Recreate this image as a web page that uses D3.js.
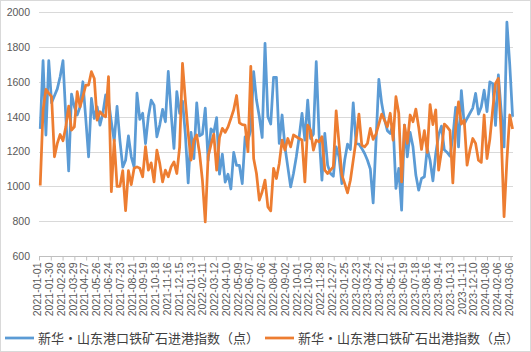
<!DOCTYPE html>
<html>
<head>
<meta charset="utf-8">
<script src="https://cdn.jsdelivr.net/npm/d3@7"></script>
<style>
  body { margin: 0; background: #fff; }
  svg { display: block; }
</style>
</head>
<body>
<div id="chart"></div>
<script>
// weekly readings, first week 2021-01-04
const firstWeek = "2021-01-04";

const inbound = [
  1330, 1722, 1295, 1722, 1480, 1520, 1560, 1630, 1722, 1400,
  1089, 1530, 1457, 1410, 1457, 1601, 1390, 1170, 1505, 1390,
  1457, 1352, 1419, 1525, 1490, 1370, 1260, 1460, 1265, 1110,
  1150, 1290, 1170, 1110, 1535, 1385, 1420, 1245, 1400, 1495,
  1467, 1285, 1352, 1442, 1371, 1660, 1420, 1218, 1544, 1420,
  1490, 1300, 1020, 1310, 1160, 1480, 1290, 1300, 1450, 1150,
  1330, 1310, 1395, 1070, 1185, 1025, 1070, 985, 1195, 1120,
  1120, 1016, 1285, 1266, 1323, 1659, 1496, 1400, 1281, 1822,
  1400, 1358, 1626, 1626, 1247, 1410, 1227, 1112, 997, 1074,
  1170, 1285, 1419, 1266, 1496, 1275, 1300, 1716, 1295, 1036,
  1304, 1122, 1074, 1058, 1227, 1170, 1016, 1151, 1243, 1212,
  1480, 1247, 1243, 1218, 1189, 1150, 1100, 905, 1260, 1615,
  1477, 1385, 1320, 1304, 1358, 988, 1103, 863, 1352, 1170,
  1310, 1227, 1065, 978, 1045, 1055, 1218, 1150, 1032, 1189,
  1295, 1346, 1210, 1195, 1174, 1285, 1454, 1227, 1550, 1358,
  1390, 1420, 1450, 1534, 1415, 1457, 1553, 1430, 1600, 1590,
  1350, 1640, 1430, 1227, 1944, 1700, 1400
];

const outbound = [
  1005, 1438, 1557, 1534, 1515, 1170, 1247, 1298, 1262, 1342,
  1461, 1323, 1342, 1544, 1457, 1515, 1582, 1582, 1659, 1620,
  1381, 1429, 1410, 1400, 1630, 970, 1266, 1000, 1000, 1090,
  860, 1090, 1010, 1104, 1112, 1104, 1055, 1228, 1093, 1135,
  1026, 1208, 1132, 1026, 1093, 1055, 1112, 1141, 1074, 1227,
  1707, 1496, 1304, 1151, 1266, 1295, 1189, 1035, 796, 1170,
  1240, 1300, 1093, 1280, 1333, 1310, 1342, 1390, 1440, 1522,
  1365, 1355, 1352, 1199, 1690, 1160, 1074, 921, 969, 1036,
  882, 859, 1103, 1045, 1132, 1266, 1208, 1275, 1227, 1295,
  1285, 1275, 1266, 1026, 1352, 1323, 1208, 1266, 1256, 1285,
  1093, 1074, 1093, 1112, 1434, 1247, 1065, 1016, 963, 1035,
  1151, 1266, 1415, 1237, 1227, 1247, 1333, 1270, 1300, 1358,
  1415, 1380, 1342, 1420, 1266, 1515, 1420, 1026, 1352, 1247,
  1410, 1371, 1444, 1340, 1212, 1320, 1195, 1470, 1355, 1440,
  1093, 1200, 1358, 1342, 1320, 1020, 1340, 1485, 1358, 1380,
  1122, 1208, 1275, 1247, 1150, 1138, 1410, 1160, 1270, 1440,
  1592, 1620, 1300, 826, 1150, 1410, 1330
];

const tickLabels = [
  "2021-01-01", "2021-01-30", "2021-02-28", "2021-03-29", "2021-04-27",
  "2021-05-26", "2021-06-24", "2021-07-23", "2021-08-21", "2021-09-19",
  "2021-10-18", "2021-11-16", "2021-12-15", "2022-01-13", "2022-02-11",
  "2022-03-12", "2022-04-10", "2022-05-09", "2022-06-07", "2022-07-06",
  "2022-08-04", "2022-09-02", "2022-10-01", "2022-10-30", "2022-11-28",
  "2022-12-27", "2023-01-25", "2023-02-23", "2023-03-24", "2023-04-22",
  "2023-05-21", "2023-06-19", "2023-07-18", "2023-08-16", "2023-09-14",
  "2023-10-13", "2023-11-11", "2023-12-10", "2024-01-08", "2024-02-06",
  "2024-03-06"
];

const yTicks = [600, 800, 1000, 1200, 1400, 1600, 1800, 2000];

const seriesNames = ["新华・山东港口铁矿石进港指数（点）", "新华・山东港口铁矿石出港指数（点）"];
const colors = ["#5B9BD5", "#ED7D31"];

const width = 531, height = 352;
const parse = d3.utcParse("%Y-%m-%d");
const start = parse(firstWeek);
const weeks = inbound.map((d, i) => d3.utcDay.offset(start, 7 * i));

const svg = d3.select("#chart").append("svg").attr("width", width).attr("height", height);

svg.append("rect")
    .attr("x", 0.5).attr("y", 0.5)
    .attr("width", width - 1).attr("height", height - 1)
    .attr("fill", "#fff").attr("stroke", "#D9D9D9");

const x = d3.scaleUtc().domain([parse("2021-01-01"), parse("2024-03-12")]).range([39, 513]);
const y = d3.scaleLinear().domain([600, 2000]).range([256, 12.3]);

// gridlines
svg.append("g")
    .selectAll("line")
    .data(yTicks.slice(1))
    .join("line")
    .attr("x1", 39).attr("x2", 513)
    .attr("y1", d => Math.round(y(d)) + 0.5).attr("y2", d => Math.round(y(d)) + 0.5)
    .attr("stroke", "#D9D9D9").attr("stroke-width", 1);

// y axis labels
const yAxis = svg.append("g")
    .attr("transform", "translate(39,0)")
    .call(d3.axisLeft(y).tickValues(yTicks).tickSize(0).tickPadding(9).tickFormat(d3.format("d")));
yAxis.select(".domain").remove();
yAxis.selectAll("text")
    .attr("font-family", "Liberation Sans, Arial, sans-serif")
    .attr("font-size", "10.5px")
    .attr("fill", "#595959");

// x axis
const tickDates = tickLabels.map(parse);
const xAxis = svg.append("g")
    .attr("transform", "translate(0,256.5)")
    .call(d3.axisBottom(x).tickValues(tickDates).tickSize(4).tickFormat(d3.utcFormat("%Y-%m-%d")));
xAxis.select(".domain").attr("stroke", "#BFBFBF").attr("d", "M39,0H513");
xAxis.selectAll(".tick line").attr("stroke", "#BFBFBF");
xAxis.selectAll("text")
    .attr("font-family", "Liberation Sans, Arial, sans-serif")
    .attr("font-size", "10.5px")
    .attr("fill", "#595959")
    .attr("text-anchor", "end")
    .attr("transform", "translate(0,6) rotate(-90)")
    .attr("x", 0).attr("y", 0)
    .attr("dy", "0.17em");

// series lines
const line = d3.line()
    .x((d, i) => x(weeks[i]))
    .y(d => y(d));

[inbound, outbound].forEach((s, k) => {
    svg.append("path")
        .datum(s)
        .attr("fill", "none")
        .attr("stroke", colors[k])
        .attr("stroke-width", 2.75)
        .attr("stroke-linejoin", "round")
        .attr("d", line);
});

// legend
const legendX = [5, 265];
seriesNames.forEach((name, k) => {
    const g = svg.append("g").attr("transform", `translate(${legendX[k]},338)`);
    g.append("line")
        .attr("x1", 0).attr("x2", 29)
        .attr("stroke", colors[k]).attr("stroke-width", 2.75);
    g.append("text")
        .attr("x", 33)
        .attr("dy", "0.36em")
        .attr("font-family", "Noto Sans CJK SC, sans-serif")
        .attr("font-size", "13px")
        .attr("fill", "#404040")
        .text(name);
});
</script>
</body>
</html>
